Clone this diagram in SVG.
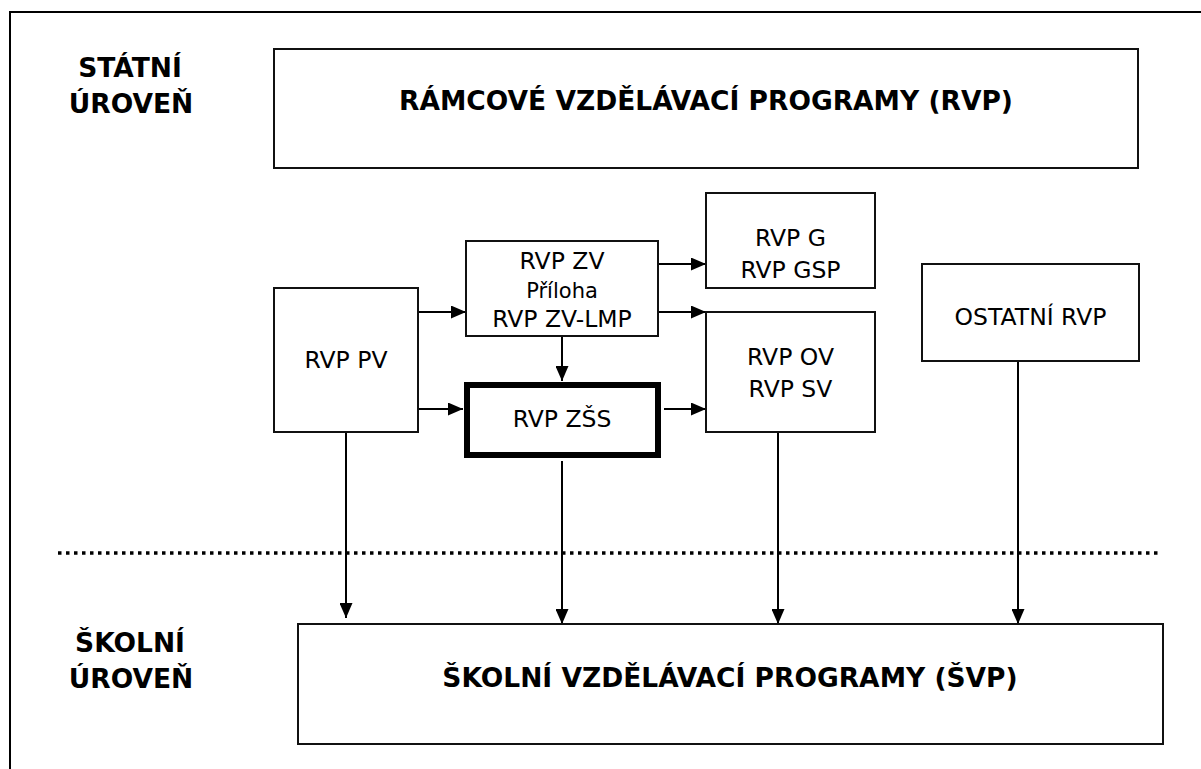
<svg xmlns="http://www.w3.org/2000/svg" width="1201" height="769" viewBox="0 0 1201 769">
<style>
.box{fill:#fff;stroke:#111;stroke-width:2}
.thick{fill:#fff;stroke:#000;stroke-width:6}
.t{font-family:"DejaVu Sans","Liberation Sans",sans-serif;font-size:23.5px;fill:#000;text-anchor:middle}
.s{font-size:21px}
.b{font-family:"DejaVu Sans","Liberation Sans",sans-serif;font-size:26.5px;font-weight:bold;fill:#000;text-anchor:middle}
.c{fill:none;stroke:#000;stroke-width:2}
</style>
<defs>
<marker id="ah" markerUnits="userSpaceOnUse" markerWidth="15" markerHeight="13" refX="15" refY="6.5" orient="auto">
<path d="M0,0 L15,6.5 L0,13 z" fill="#000"/>
</marker>
</defs>
<rect width="1201" height="769" fill="#fff"/>
<path d="M10,769 V12 H1201" fill="none" stroke="#000" stroke-width="2"/>
<g id="label-statni">
<text class="b" x="130" y="77">STÁTNÍ</text>
<text class="b" x="131" y="113">ÚROVEŇ</text>
</g>
<g id="label-skolni">
<text class="b" x="130" y="652">ŠKOLNÍ</text>
<text class="b" x="131" y="688">ÚROVEŇ</text>
</g>
<line x1="58" y1="553" x2="1158" y2="553" stroke="#000" stroke-width="3.5" stroke-dasharray="3.5 4.5"/>
<g id="connectors">
<line class="c" x1="418" y1="312" x2="466" y2="312" marker-end="url(#ah)"/>
<line class="c" x1="418" y1="409" x2="463" y2="409" marker-end="url(#ah)"/>
<line class="c" x1="658" y1="264" x2="706" y2="264" marker-end="url(#ah)"/>
<line class="c" x1="658" y1="312" x2="706" y2="312" marker-end="url(#ah)"/>
<line class="c" x1="664" y1="409" x2="706" y2="409" marker-end="url(#ah)"/>
<line class="c" x1="562" y1="336" x2="562" y2="381" marker-end="url(#ah)"/>
<line class="c" x1="346" y1="432" x2="346" y2="618" marker-end="url(#ah)"/>
<line class="c" x1="562" y1="461" x2="562" y2="624" marker-end="url(#ah)"/>
<line class="c" x1="778" y1="432" x2="778" y2="624" marker-end="url(#ah)"/>
<line class="c" x1="1018" y1="361" x2="1018" y2="624" marker-end="url(#ah)"/>
</g>
<g id="rvp">
<rect class="box" x="274" y="49" width="864" height="119"/>
<text class="b" x="706" y="110">RÁMCOVÉ VZDĚLÁVACÍ PROGRAMY (RVP)</text>
</g>
<g id="rvp-pv">
<rect class="box" x="274" y="288" width="144" height="144"/>
<text class="t" x="346" y="368">RVP PV</text>
</g>
<g id="rvp-zv">
<rect class="box" x="466" y="241" width="192" height="95"/>
<text class="t" x="562" y="269">RVP ZV</text>
<text class="t s" x="562" y="298">Příloha</text>
<text class="t" x="562" y="327">RVP ZV-LMP</text>
</g>
<g id="rvp-zss">
<rect class="thick" x="467" y="385" width="191" height="70"/>
<text class="t" x="562" y="427">RVP ZŠS</text>
</g>
<g id="rvp-g">
<rect class="box" x="706" y="193" width="169" height="95"/>
<text class="t" x="790.5" y="246">RVP G</text>
<text class="t" x="790.5" y="278">RVP GSP</text>
</g>
<g id="rvp-ov">
<rect class="box" x="706" y="312" width="169" height="120"/>
<text class="t" x="790.5" y="365">RVP OV</text>
<text class="t" x="790.5" y="397">RVP SV</text>
</g>
<g id="ostatni">
<rect class="box" x="922" y="264" width="217" height="97"/>
<text class="t" x="1030.5" y="325">OSTATNÍ RVP</text>
</g>
<g id="svp">
<rect class="box" x="298" y="624" width="865" height="120"/>
<text class="b" x="730" y="687">ŠKOLNÍ VZDĚLÁVACÍ PROGRAMY (ŠVP)</text>
</g>
</svg>
